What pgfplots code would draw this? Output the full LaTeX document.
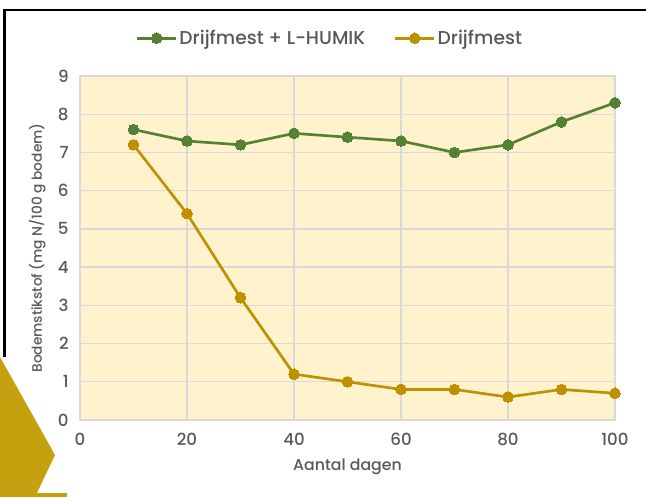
\documentclass[border=0pt]{standalone}
\usepackage{fontspec}
\setmainfont{Poppins}
\newfontfamily\medfont{Poppins Medium}
\usepackage{pgfplots}
\pgfplotsset{compat=1.18}
\definecolor{humik}{HTML}{548235}
\definecolor{mest}{HTML}{BF9000}
\definecolor{plotbg}{HTML}{FFF2CC}
\definecolor{gridgray}{HTML}{D9D9D9}
\definecolor{txt}{HTML}{595959}
\definecolor{deco}{HTML}{C6A10F}
\begin{document}
\begin{tikzpicture}
% page 646x497 px, 1 px = 0.75 pt, origin at top left
\useasboundingbox[fill=white] (0,0) rectangle (484.5pt,-372.75pt);
\draw[black, line width=1.8pt] (3.5pt,-268pt) -- (3.5pt,-7.5pt) -- (484.5pt,-7.5pt);
\fill[deco] (0,-267.75pt) -- (41.25pt,-341.25pt) -- (26.25pt,-372.75pt) -- (0,-372.75pt) -- cycle;
\fill[deco] (26.25pt,-369.5pt) rectangle (50.25pt,-372.75pt);
\begin{axis}[
    at={(60pt,-315pt)}, anchor=south west,
    scale only axis,
    width=401.25pt, height=258pt,
    xmin=0, xmax=100, ymin=0, ymax=9,
    xtick={0,20,...,100}, ytick={0,1,...,9},
    grid=major,
    grid style={gridgray, line width=1pt},
    axis line style={gridgray, line width=1pt},
    axis background/.style={fill=plotbg},
    tick style={draw=none},
    /pgf/number format/assume math mode=true,
    ticklabel style={font=\medfont\fontsize{12.5}{14}\selectfont, text=txt},
    xticklabel style={yshift=-6pt},
    yticklabel style={xshift=-5pt},
    xlabel={Aantal dagen},
    ylabel={Bodemstikstof (mg N/100 g bodem)},
    xlabel style={font=\medfont\fontsize{11.8}{13}\selectfont, text=txt,
        at={(axis description cs:0.5,-0.137)}, anchor=center},
    ylabel style={font=\medfont\fontsize{10.3}{12}\selectfont, text=txt,
        at={(axis description cs:-0.08,0.5)}, anchor=center, rotate=0},
    legend columns=-1,
    legend style={at={(axis description cs:0.467,1.11)}, anchor=center,
        draw=none, fill=none, font=\medfont\fontsize{14}{16}\selectfont, text=txt,
        nodes={inner xsep=1.5pt},
        /tikz/every even column/.append style={column sep=20pt}},
    legend image code/.code={
        \draw[#1, mark=none] (0cm,0cm) -- (1.03cm,0cm);
        \draw[#1, only marks] plot coordinates {(0.515cm,0cm)};
    },
]
\addplot[humik, line width=2pt, mark=*, mark size=4pt, mark options={fill=humik, draw=humik, line width=0pt}] coordinates {
    (10,7.6) (20,7.3) (30,7.2) (40,7.5) (50,7.4) (60,7.3) (70,7.0) (80,7.2) (90,7.8) (100,8.3)
};
\addlegendentry{Drijfmest + L-HUMIK}
\addplot[mest, line width=2pt, mark=*, mark size=4pt, mark options={fill=mest, draw=mest, line width=0pt}] coordinates {
    (10,7.2) (20,5.4) (30,3.2) (40,1.2) (50,1.0) (60,0.8) (70,0.8) (80,0.6) (90,0.8) (100,0.7)
};
\addlegendentry{Drijfmest}
\end{axis}
\end{tikzpicture}
\end{document}
